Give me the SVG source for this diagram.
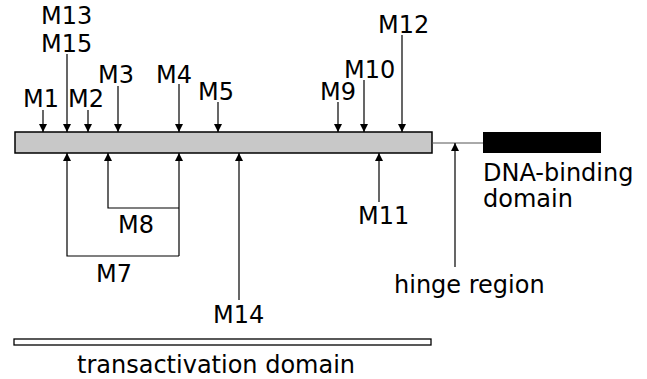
<svg xmlns="http://www.w3.org/2000/svg" width="647" height="379" viewBox="0 0 647 379">
<style>
text{font-family:"DejaVu Sans","Liberation Sans",sans-serif;font-size:24px;fill:#000}
.ln{stroke:#000;stroke-width:1.2;fill:none}
</style>
<defs>
<marker id="ah" viewBox="0 0 10 10" refX="10" refY="5" markerWidth="8" markerHeight="8" markerUnits="userSpaceOnUse" orient="auto">
<path d="M0,0 L10,5 L0,10 Z" fill="#000"/>
</marker>
</defs>
<rect width="647" height="379" fill="#fff"/>
<g id="bar"><rect x="15" y="132" width="417" height="21" fill="#c8c8c8" stroke="#000" stroke-width="1.5"/></g>
<g id="hinge-line"><line x1="432" y1="143" x2="483" y2="143" stroke="#555" stroke-width="1"/></g>
<g id="dna-box"><rect x="483" y="132" width="118" height="21" fill="#000"/></g>
<g id="ta-bar"><rect x="14" y="339" width="417" height="6" fill="#fff" stroke="#000" stroke-width="1.3"/></g>
<g id="connectors">
<line class="ln" x1="43" y1="110" x2="43" y2="132" marker-end="url(#ah)"/>
<line class="ln" x1="67" y1="54" x2="67" y2="132" marker-end="url(#ah)"/>
<line class="ln" x1="88" y1="110" x2="88" y2="132" marker-end="url(#ah)"/>
<line class="ln" x1="118" y1="86" x2="118" y2="132" marker-end="url(#ah)"/>
<line class="ln" x1="179" y1="84" x2="179" y2="132" marker-end="url(#ah)"/>
<line class="ln" x1="218" y1="102" x2="218" y2="132" marker-end="url(#ah)"/>
<line class="ln" x1="338" y1="102" x2="338" y2="132" marker-end="url(#ah)"/>
<line class="ln" x1="364" y1="80" x2="364" y2="132" marker-end="url(#ah)"/>
<line class="ln" x1="402" y1="35" x2="402" y2="132" marker-end="url(#ah)"/>
<path class="ln" d="M179,208 H108 V153" marker-end="url(#ah)"/>
<path class="ln" d="M179,256 H67 V153" marker-end="url(#ah)"/>
<line class="ln" x1="179" y1="256" x2="179" y2="153" marker-end="url(#ah)"/>
<line class="ln" x1="239" y1="300" x2="239" y2="153" marker-end="url(#ah)"/>
<line class="ln" x1="379" y1="202" x2="379" y2="153" marker-end="url(#ah)"/>
<line class="ln" x1="455" y1="267" x2="455" y2="143" marker-end="url(#ah)"/>
</g>
<g id="labels">
<text x="23" y="107">M1</text>
<text x="41" y="24">M13</text>
<text x="41" y="52">M15</text>
<text x="68" y="107">M2</text>
<text x="98" y="83">M3</text>
<text x="156" y="83">M4</text>
<text x="198" y="100">M5</text>
<text x="320" y="100">M9</text>
<text x="344" y="78">M10</text>
<text x="378" y="33">M12</text>
<text x="118" y="233">M8</text>
<text x="96" y="282">M7</text>
<text x="213" y="323">M14</text>
<text x="358" y="224">M11</text>
<text x="483" y="181">DNA-binding</text>
<text x="483" y="207">domain</text>
<text x="394" y="293">hinge region</text>
<text x="77" y="373">transactivation domain</text>
</g>
</svg>
